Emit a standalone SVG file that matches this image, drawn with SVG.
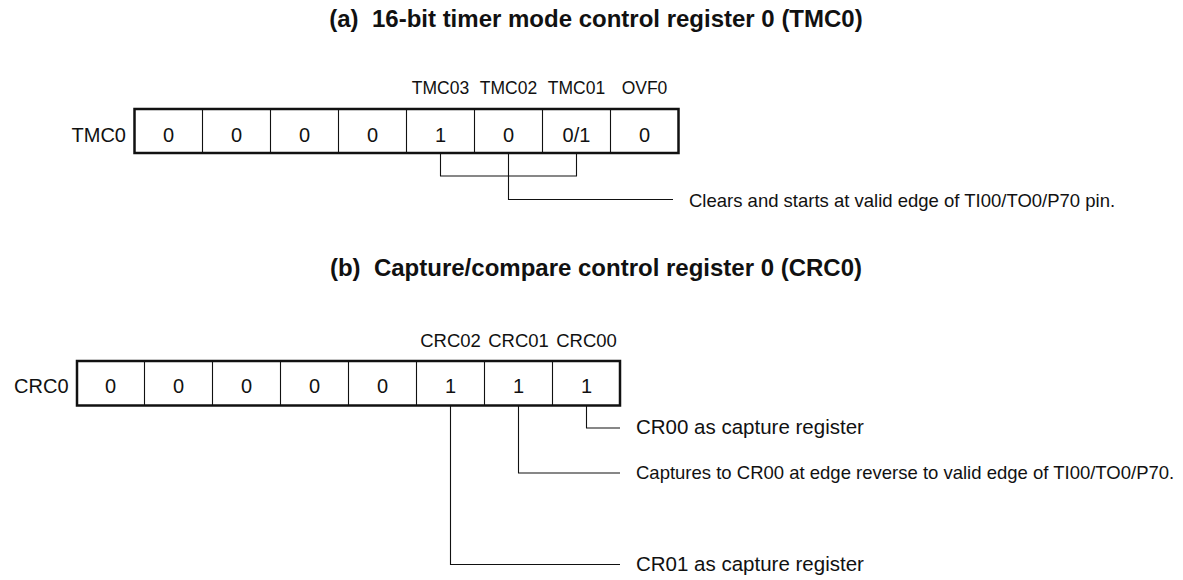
<svg xmlns="http://www.w3.org/2000/svg" width="1183" height="580" viewBox="0 0 1183 580">
<style>
text{font-family:"Liberation Sans",Arial,sans-serif;fill:#111}
.title{font-size:24px;font-weight:bold;text-anchor:middle;white-space:pre}
.lbl{font-size:17.5px;text-anchor:middle}
.val{font-size:20px;text-anchor:middle}
.name{font-size:20px;text-anchor:end}
.desc{font-size:18.5px}
.descL{font-size:20.5px}
.box{fill:#fff;stroke:#111;stroke-width:2.5}
.div{stroke:#111;stroke-width:1.1}
.con{fill:none;stroke:#111;stroke-width:1.1}
</style>
<rect width="1183" height="580" fill="#fff"/>
<text class="title" x="596" y="27" xml:space="preserve">(a)  16-bit timer mode control register 0 (TMC0)</text>
<g id="reg-TMC0">
<text class="name" x="126" y="141.5">TMC0</text>
<rect class="box" x="134.5" y="109" width="544" height="44"/>
<path class="div" d="M202.5 109V153M270.5 109V153M338.5 109V153M406.5 109V153M474.5 109V153M542.5 109V153M610.5 109V153"/>
<text class="lbl" x="440.5" y="94">TMC03</text>
<text class="lbl" x="508.5" y="94">TMC02</text>
<text class="lbl" x="576.5" y="94">TMC01</text>
<text class="lbl" x="644.5" y="94">OVF0</text>
<text class="val" x="168.5" y="141.5">0</text>
<text class="val" x="236.5" y="141.5">0</text>
<text class="val" x="304.5" y="141.5">0</text>
<text class="val" x="372.5" y="141.5">0</text>
<text class="val" x="440.5" y="141.5">1</text>
<text class="val" x="508.5" y="141.5">0</text>
<text class="val" x="576.5" y="141.5">0/1</text>
<text class="val" x="644.5" y="141.5">0</text>
</g>
<g id="desc-TMC0">
<text class="desc" x="689" y="206.5">Clears and starts at valid edge of TI00/TO0/P70 pin.</text>
</g>
<text class="title" x="596" y="276" xml:space="preserve">(b)  Capture/compare control register 0 (CRC0)</text>
<g id="reg-CRC0">
<text class="name" x="68.5" y="392.5">CRC0</text>
<rect class="box" x="77" y="361" width="543" height="44.5"/>
<path class="div" d="M144.5 361V405.5M212.5 361V405.5M280.5 361V405.5M348.5 361V405.5M416.5 361V405.5M484.5 361V405.5M552.5 361V405.5"/>
<text class="lbl" x="450.5" y="346.5" style="font-size:18.5px">CRC02</text>
<text class="lbl" x="518.5" y="346.5" style="font-size:18.5px">CRC01</text>
<text class="lbl" x="586.5" y="346.5" style="font-size:18.5px">CRC00</text>
<text class="val" x="110.5" y="392.5">0</text>
<text class="val" x="178.5" y="392.5">0</text>
<text class="val" x="246.5" y="392.5">0</text>
<text class="val" x="314.5" y="392.5">0</text>
<text class="val" x="382.5" y="392.5">0</text>
<text class="val" x="450.5" y="392.5">1</text>
<text class="val" x="518.5" y="392.5">1</text>
<text class="val" x="586.5" y="392.5">1</text>
</g>
<g id="desc-CRC00"><text class="descL" x="636" y="434">CR00 as capture register</text></g>
<g id="desc-CRC01"><text class="desc" x="636" y="479">Captures to CR00 at edge reverse to valid edge of TI00/TO0/P70.</text></g>
<g id="desc-CRC02"><text class="descL" x="636" y="570.5">CR01 as capture register</text></g>
<g id="connectors">
<path class="con" d="M440.5 154V176H576.5V154"/>
<path class="con" d="M508.5 154V199.5H673"/>
<path class="con" d="M586.5 406V428H620"/>
<path class="con" d="M518.5 406V473H620"/>
<path class="con" d="M450.5 406V564.5H620"/>
</g>
</svg>
